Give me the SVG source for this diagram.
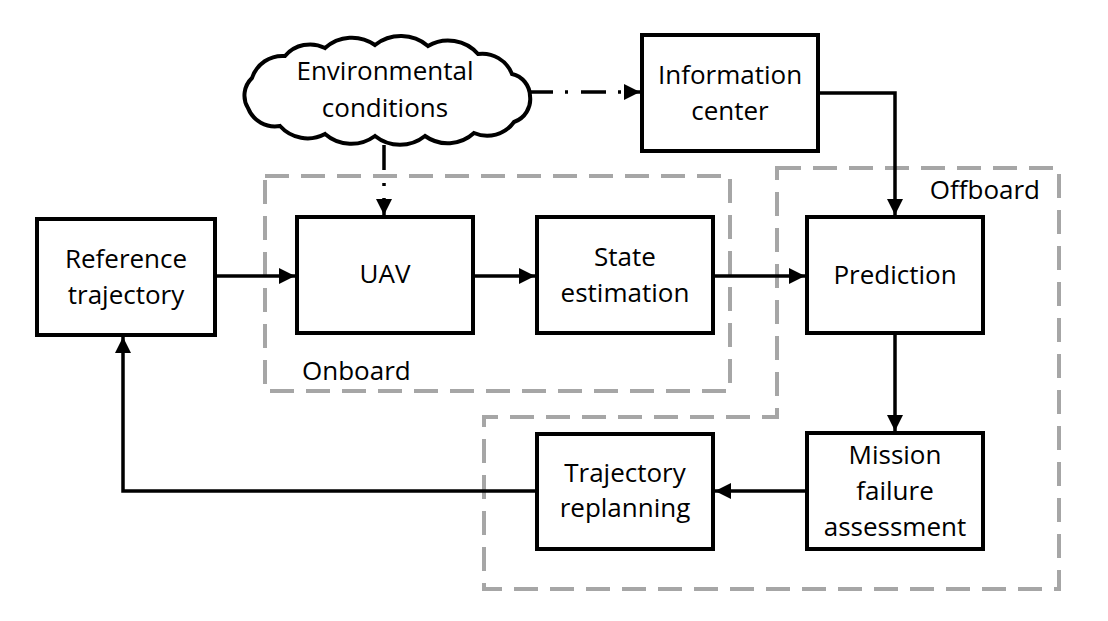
<svg xmlns="http://www.w3.org/2000/svg" width="1108" height="621" viewBox="0 0 1108 621">
<defs>
<style>
.box{fill:#fff;stroke:#000;stroke-width:4}
.t{font-family:"Open Sans","Liberation Sans",sans-serif;font-size:26px;fill:#000;text-anchor:middle}
.lbl{font-family:"Open Sans","Liberation Sans",sans-serif;font-size:26px;fill:#000}
.zone{fill:none;stroke:#a6a6a6;stroke-width:4;stroke-dasharray:24 12}
.c{fill:none;stroke:#000;stroke-width:3.5}
.dd{fill:none;stroke:#000;stroke-width:3.5}
</style>
<marker id="ah" markerUnits="userSpaceOnUse" markerWidth="17" markerHeight="17" refX="16" refY="8" orient="auto">
<path d="M0,0 L16,8 L0,16 z" fill="#000"/>
</marker>
</defs>
<rect width="1108" height="621" fill="#fff"/>
<g id="zones">
<rect id="onboard-zone" class="zone" x="265" y="176" width="465" height="215"/>
<path id="offboard-zone" class="zone" d="M777,168 H1059 V589 H484 V417 H777 Z"/>
<text class="lbl" x="302" y="380">Onboard</text>
<text class="lbl" x="1040" y="199" text-anchor="end">Offboard</text>
</g>
<g id="node-env">
<path class="box" d="M252,78 A32,32 0 0 1 285,56 A33,33 0 0 1 325,48 A40,40 0 0 1 375,45 A42,42 0 0 1 428,46 A40,40 0 0 1 478,54 A32,32 0 0 1 512,74 A23,23 0 0 1 530,96 A24,24 0 0 1 514,122 A33,33 0 0 1 474,133 A39,39 0 0 1 425,136 A40,40 0 0 1 375,136 A40,40 0 0 1 325,134 A37,37 0 0 1 280,126 A29,29 0 0 1 248,108 A24,24 0 0 1 252,78 Z"/>
<text class="t" x="385" y="80">Environmental</text>
<text class="t" x="385" y="117">conditions</text>
</g>
<g id="node-info">
<rect class="box" x="642" y="35" width="176" height="116"/>
<text class="t" x="730" y="84">Information</text>
<text class="t" x="730" y="120">center</text>
</g>
<g id="node-ref">
<rect class="box" x="37" y="219" width="178" height="116"/>
<text class="t" x="126" y="268">Reference</text>
<text class="t" x="126" y="304">trajectory</text>
</g>
<g id="node-uav">
<rect class="box" x="297" y="217" width="176" height="116"/>
<text class="t" x="385" y="283">UAV</text>
</g>
<g id="node-state">
<rect class="box" x="537" y="217" width="176" height="116"/>
<text class="t" x="625" y="266">State</text>
<text class="t" x="625" y="302">estimation</text>
</g>
<g id="node-pred">
<rect class="box" x="807" y="217" width="176" height="116"/>
<text class="t" x="895" y="284">Prediction</text>
</g>
<g id="node-mission">
<rect class="box" x="807" y="433" width="176" height="116"/>
<text class="t" x="895" y="464">Mission</text>
<text class="t" x="895" y="500">failure</text>
<text class="t" x="895" y="536">assessment</text>
</g>
<g id="node-replan">
<rect class="box" x="537" y="434" width="176" height="115"/>
<text class="t" x="625" y="482">Trajectory</text>
<text class="t" x="625" y="517">replanning</text>
</g>
<g id="connectors">
<path class="c" d="M217,276 H295" marker-end="url(#ah)"/>
<path class="c" d="M475,276 H535" marker-end="url(#ah)"/>
<path class="c" d="M715,276 H805" marker-end="url(#ah)"/>
<path class="c" d="M820,93 H895 V215" marker-end="url(#ah)"/>
<path class="c" d="M895,335 V431" marker-end="url(#ah)"/>
<path class="c" d="M805,491 H715" marker-end="url(#ah)"/>
<path class="c" d="M535,491 H123 V337" marker-end="url(#ah)"/>
<path class="dd" d="M384,145 V215" stroke-dasharray="25 13 3 12" marker-end="url(#ah)"/>
<path class="dd" d="M528,92 H640" stroke-dasharray="25 12 3 13" marker-end="url(#ah)"/>
</g>
</svg>
